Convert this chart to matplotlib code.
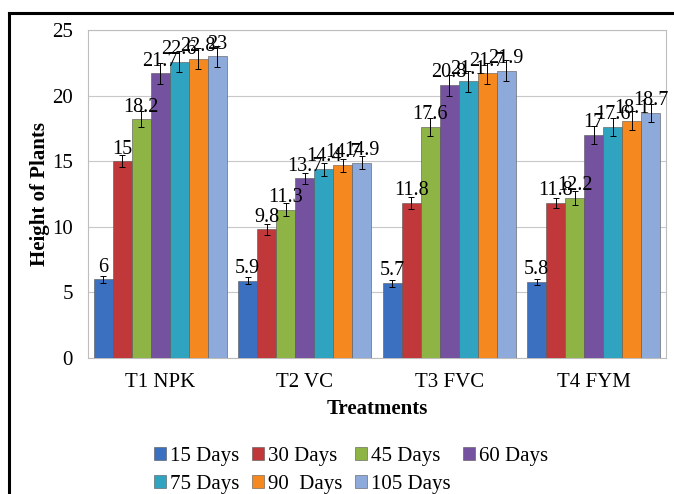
import numpy as np
import matplotlib
matplotlib.use("Agg")
import matplotlib.pyplot as plt
from matplotlib.lines import Line2D

plt.rcParams['font.family'] = ['Liberation Serif', 'DejaVu Serif']

treatments = ['T1 NPK', 'T2 VC', 'T3 FVC', 'T4 FYM']
stages = ['15 Days', '30 Days', '45 Days', '60 Days', '75 Days', '90  Days', '105 Days']
colors = ['#3b70c0', '#c0383a', '#8db444', '#7452a0', '#2fa3bf', '#f5881f', '#8eaadb']

# plant height per treatment, one list per growth stage
h_15 = [6.0, 5.9, 5.7, 5.8]
h_30 = [15.0, 9.8, 11.8, 11.8]
h_45 = [18.2, 11.3, 17.6, 12.2]
h_60 = [21.7, 13.7, 20.8, 17.0]
h_75 = [22.6, 14.4, 21.1, 17.6]
h_90 = [22.8, 14.7, 21.7, 18.1]
h_105 = [23.0, 14.9, 21.9, 18.7]

err_15 = [0.25, 0.25, 0.25, 0.25]
err_30 = [0.45, 0.4, 0.45, 0.4]
err_45 = [0.6, 0.5, 0.7, 0.5]
err_60 = [0.8, 0.4, 0.8, 0.7]
err_75 = [0.8, 0.5, 0.8, 0.7]
err_90 = [0.8, 0.5, 0.8, 0.7]
err_105 = [0.8, 0.5, 0.8, 0.7]

heights = [h_15, h_30, h_45, h_60, h_75, h_90, h_105]
errors = [err_15, err_30, err_45, err_60, err_75, err_90, err_105]

fig = plt.figure(figsize=(6.74, 4.94), dpi=100)
ax = fig.add_axes([0.1306, 0.2753, 0.8574, 0.6637])

x = np.arange(len(treatments))
n = len(stages)
width = 0.92 / n

bars = []
for i, (vals, errs) in enumerate(zip(heights, errors)):
    pos = x - 0.46 + width * (i + 0.5)
    b = ax.bar(pos, vals, width=width, color=colors[i], edgecolor='#555555',
               linewidth=0.4, label=stages[i], zorder=3)
    ax.errorbar(pos, vals, yerr=errs, fmt='none', ecolor='black',
                elinewidth=0.7, capsize=2.5, capthick=0.7, zorder=4)
    for p, v in zip(pos, vals):
        ax.annotate(f"{v:g}", (p, v), xytext=(0, 2), textcoords='offset points',
                    ha='center', va='bottom', fontsize=14.5, zorder=5)
    bars.append(b)

ax.set_ylim(0, 25)
ax.set_xlim(-0.5, 3.5)
ax.set_yticks(range(0, 26, 5))
ax.set_xticks(x)
ax.set_xticklabels(treatments)
ax.tick_params(axis='both', length=0, labelsize=15)
ax.tick_params(axis='y', pad=11)
ax.tick_params(axis='x', pad=11)
ax.grid(axis='y', color='#c8c8c8', linewidth=0.8, zorder=0)
for s in ax.spines.values():
    s.set_color('#bdbdbd')
    s.set_linewidth(0.8)

ax.set_ylabel('Height of Plants', fontsize=15, fontweight='bold', labelpad=1)
ax.set_xlabel('Treatments', fontsize=15, fontweight='bold', labelpad=5)

# legend laid out row by row: 4 on top, 3 below
order = [0, 4, 1, 5, 2, 6, 3]
ax.legend([bars[k] for k in order], [stages[k] for k in order], ncol=4,
          loc='upper left', bbox_to_anchor=(0.10, -0.245), frameon=False,
          fontsize=15, handlelength=0.58, handleheight=0.58, handletextpad=0.2,
          columnspacing=0.58, labelspacing=0.45, borderaxespad=0)

# outer frame lines
fig.add_artist(Line2D([9 / 674, 1], [1 - 13 / 494, 1 - 13 / 494], color='black',
                      linewidth=2.2, transform=fig.transFigure))
fig.add_artist(Line2D([9 / 674, 9 / 674], [0, 1 - 13 / 494], color='black',
                      linewidth=2.2, transform=fig.transFigure))

fig.savefig('out.png', dpi=100)
